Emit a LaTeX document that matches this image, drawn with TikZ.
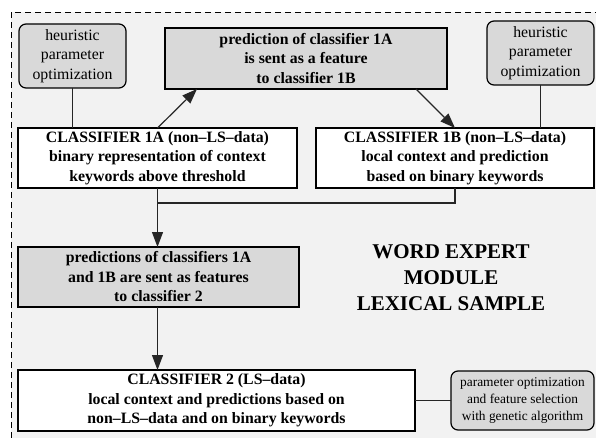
\documentclass[tikz,border=0pt]{standalone}
\usepackage{fontspec}
\setmainfont{Liberation Serif}
\usetikzlibrary{arrows.meta,calc}
\definecolor{bgfill}{HTML}{F2F2F2}
\definecolor{boxgray}{HTML}{D9D9D9}
\begin{document}
\begin{tikzpicture}[x=1pt,y=-1pt,
  every node/.style={inner sep=0pt,outer sep=0pt,align=center},
  plain/.style={draw=black,line width=1.2pt,fill=white,font=\fontsize{15.8}{19.5}\selectfont\bfseries},
  grayplain/.style={plain,fill=boxgray},
  heur/.style={draw=black,line width=1.2pt,fill=boxgray,rounded corners=7pt,font=\fontsize{15.8}{19.5}\selectfont},
  conn/.style={line width=1.2pt,draw=black!85},
  arr/.style={conn,-{Triangle[length=15pt,width=11pt]}}]
\useasboundingbox (0,0) rectangle (596,438);
\fill[white] (0,0) rectangle (596,438);
\fill[bgfill] (11,12) rectangle (596,438);
\draw[line width=0.8pt,dash pattern=on 6pt off 4pt] (11,438) -- (11,12) -- (596,12);

\node[heur,minimum width=107pt,minimum height=64pt] (heurL) at (72.5,56) {heuristic\\parameter\\optimization};
\node[grayplain,minimum width=282pt,minimum height=61pt] (pred1) at (306,58.5) {prediction of classifier 1A\\is sent as a feature\\to classifier 1B};
\node[heur,minimum width=107pt,minimum height=64pt] (heurR) at (540.5,53) {heuristic\\parameter\\optimization};
\node[plain,minimum width=279pt,minimum height=60pt] (c1A) at (157.5,158) {CLASSIFIER 1A (non--LS--data)\\binary representation of context\\keywords above threshold};
\node[plain,minimum width=278pt,minimum height=60pt] (c1B) at (455,158) {CLASSIFIER 1B (non--LS--data)\\local context and prediction\\based on binary keywords};
\node[grayplain,minimum width=281pt,minimum height=60pt] (pred2) at (158.5,277) {predictions of classifiers 1A\\and 1B are sent as features\\to classifier 2};
\node[plain,minimum width=397pt,minimum height=61pt] (c2) at (216.5,400.5) {CLASSIFIER 2 (LS--data)\\local context and predictions based on\\non--LS--data and on binary keywords};
\node[heur,minimum width=143pt,minimum height=59pt,font=\fontsize{13.4}{17}\selectfont] (param) at (522.5,400.5) {parameter optimization\\and feature selection\\with genetic algorithm};
\node[font=\fontsize{21}{26}\selectfont\bfseries] (title) at (451,278) {WORD EXPERT\\MODULE\\LEXICAL SAMPLE};

\coordinate (j) at (c1A.south |- 0,203);
\draw[conn] (heurL.south) -- (heurL.south |- c1A.north);
\draw[conn] (heurR.south) -- (heurR.south |- c1B.north);
\draw[arr] (c1A.north) -- ([xshift=-109pt]pred1.south);
\draw[arr] ([xshift=110pt]pred1.south) -- (c1B.north);
\draw[arr] (c1A.south) -- (c1A.south |- pred2.north);
\draw[conn] (c1B.south) |- (j);
\draw[arr] (c1A.south |- pred2.south) -- (c1A.south |- c2.north);
\draw[conn] (c2.east) -- (param.west);
\end{tikzpicture}
\end{document}
